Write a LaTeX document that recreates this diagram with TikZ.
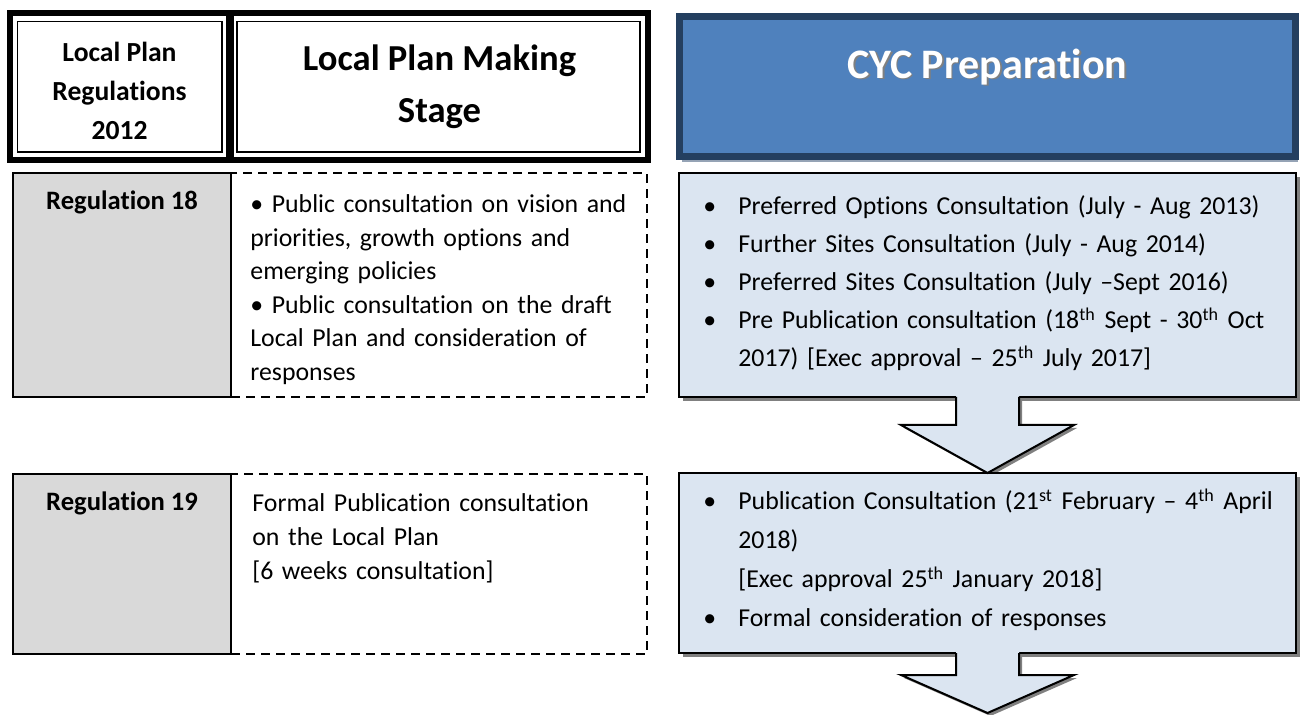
\documentclass[tikz,border=0pt]{standalone}
\usepackage{fontspec}
\setmainfont{Carlito}[Ligatures=CommonOff]
\usepackage{tikz}
\usetikzlibrary{positioning,calc,shadows}
\usepackage{xcolor}
\definecolor{cycblue}{HTML}{4F81BD}
\definecolor{cycnavy}{HTML}{243F60}
\definecolor{cycshade}{HTML}{95A3B5}
\definecolor{paleblue}{HTML}{DBE5F1}
\definecolor{reggray}{HTML}{D9D9D9}
\definecolor{boxshade}{HTML}{808080}
\pgfdeclarelayer{background}
\pgfsetlayers{background,main}
\tikzset{hdr/.style={draw, line width=3pt, inner sep=0pt, outer sep=0pt, align=center},
	hdrinner/.style={draw, line width=0.8pt},
	reg/.style={draw, line width=0.8pt, fill=reggray, minimum width=109pt, inner sep=0pt, outer sep=0pt},
	stagebox/.style={draw, line width=1pt, dash pattern=on 4.5pt off 3pt, minimum width=208pt, inner sep=0pt, outer sep=0pt},
	cyc/.style={draw, line width=1pt, fill=paleblue, minimum width=308.5pt, inner sep=0pt, outer sep=0pt,
		drop shadow={shadow xshift=2pt, shadow yshift=-2pt, fill=boxshade, opacity=1}},
	body/.style={anchor=base west, inner sep=0pt, align=left}
}
\newcommand{\itembul}{\makebox[17.5pt][l]{\textbullet}}
\newcommand{\itemgap}{\hspace*{17.5pt}}
% block arrow: #1 shaft top, #2 head line, #3 tip
\newcommand{\blockarrow}[3]{%
	\begin{pgfonlayer}{background}
	\fill[boxshade, transform canvas={xshift=1.5pt, yshift=-1.5pt}] ($(#1)+(-31.5,0)$) -- ($(#2)+(-31.5,0)$) -- ($(#2)+(-86.5,0)$) -- (#3) -- ($(#2)+(86.5,0)$) -- ($(#2)+(31.5,0)$) -- ($(#1)+(31.5,0)$) -- cycle;
	\end{pgfonlayer}
	\fill[paleblue] ($(#1)+(-31.5,-2)$) -- ($(#2)+(-31.5,0)$) -- ($(#2)+(-86.5,0)$) -- (#3) -- ($(#2)+(86.5,0)$) -- ($(#2)+(31.5,0)$) -- ($(#1)+(31.5,-2)$) -- cycle;
	\draw[line width=1pt] ($(#1)+(-31.5,0)$) -- ($(#2)+(-31.5,0)$) -- ($(#2)+(-86.5,0)$) -- (#3) -- ($(#2)+(86.5,0)$) -- ($(#2)+(31.5,0)$) -- ($(#1)+(31.5,0)$);
}

\begin{document}
\begin{tikzpicture}[x=0.5pt, y=-0.5pt]
\useasboundingbox (0,0) rectangle (1301,715);

%Headers
\node[hdr, anchor=north west, minimum width=109.5pt, minimum height=73.25pt,
  font=\fontsize{13.8}{19.5}\selectfont\bfseries] (hdrRegs) at (10,13.5) {\rule{0pt}{14pt}Local Plan\\Regulations\\2012};
\node[hdr, minimum width=208.5pt, minimum height=73.25pt, right=1pt of hdrRegs,
  font=\fontsize{18.3}{26}\selectfont\bfseries] (hdrStage) {Local Plan Making\\Stage};
\draw[hdrinner] ($(hdrRegs.north west)+(7.5,8)$) rectangle ($(hdrRegs.south east)+(-7,-8)$);
\draw[hdrinner] ($(hdrStage.north west)+(6,8)$) rectangle ($(hdrStage.south east)+(-8,-8)$);

\node[hdr, draw=cycnavy, line width=3.5pt, fill=cycblue, minimum width=308pt, minimum height=70pt,
  right=15.75pt of hdrStage, drop shadow={shadow xshift=1pt, shadow yshift=-2.5pt, fill=cycshade, opacity=1}] (hdrCYC) {};
\node[anchor=base, text=gray, font=\fontsize{21}{25}\selectfont\bfseries] (cycTitleShade) at ($(hdrCYC.north)+(1.5,63)$) {CYC Preparation};
\node[anchor=base, text=white, font=\fontsize{21}{25}\selectfont\bfseries] (cycTitle) at ($(hdrCYC.north)+(0,61.5)$) {CYC Preparation};

%Regulation 18
\node[reg, anchor=north west, minimum height=112pt] (reg18) at (13,173) {};
\node[stagebox, minimum height=112pt, right=0pt of reg18] (stage18) {};
\node[cyc, minimum height=112pt, right=16pt of stage18] (cyc18) {};

%Regulation 19
\node[reg, minimum height=90pt, below=38.5pt of reg18] (reg19) {};
\node[stagebox, minimum height=90pt, right=0pt of reg19] (stage19) {};
\node[cyc, minimum height=90pt, below=38pt of cyc18] (cyc19) {};

%Texts
\node[anchor=base, inner sep=0pt, font=\fontsize{13.3}{16}\selectfont\bfseries] (reg18txt) at ($(reg18.north)+(0,37)$) {Regulation 18};
\node[anchor=base, inner sep=0pt, font=\fontsize{13.3}{16}\selectfont\bfseries] (reg19txt) at ($(reg19.north)+(0,37)$) {Regulation 19};

\node[body, text width=200pt, font=\fontsize{12.9}{16.75}\selectfont] (stage18txt) at ($(stage18.north west)+(19,40)$)
  {\textbullet{} Public consultation on vision and\\ priorities, growth options and\\ emerging policies\\
   \textbullet{} Public consultation on the draft\\ Local Plan and consideration of\\ responses};
\node[body, text width=200pt, font=\fontsize{12.9}{17}\selectfont] (stage19txt) at ($(stage19.north west)+(21,38)$)
  {Formal Publication consultation\\ on the Local Plan\\{}[6 weeks consultation]};

\node[body, text width=320pt, font=\fontsize{12.9}{19}\selectfont] (cyc18txt) at ($(cyc18.north west)+(24,42)$)
  {\itembul Preferred Options Consultation (July - Aug 2013)\\
   \itembul Further Sites Consultation (July - Aug 2014)\\
   \itembul Preferred Sites Consultation (July –Sept 2016)\\
   \itembul Pre Publication consultation (18\textsuperscript{th} Sept - 30\textsuperscript{th} Oct\\
   \itemgap 2017) [Exec approval – 25\textsuperscript{th} July 2017]};
\node[body, text width=320pt, font=\fontsize{12.9}{19.5}\selectfont] (cyc19txt) at ($(cyc19.north west)+(24,37)$)
  {\itembul Publication Consultation (21\textsuperscript{st} February – 4\textsuperscript{th} April\\
   \itemgap 2018)\\
   \itemgap [Exec approval 25\textsuperscript{th} January 2018]\\
   \itembul Formal consideration of responses};

%Arrows
\coordinate (arr1head) at ($(cyc18.south)+(0,28)$);
\coordinate (arr2head) at ($(cyc19.south)+(0,22)$);
\coordinate (planEnd) at ($(cyc19.south)+(0,60)$);
\blockarrow{cyc18.south}{arr1head}{cyc19.north}
\blockarrow{cyc19.south}{arr2head}{planEnd}
\end{tikzpicture}
\end{document}
